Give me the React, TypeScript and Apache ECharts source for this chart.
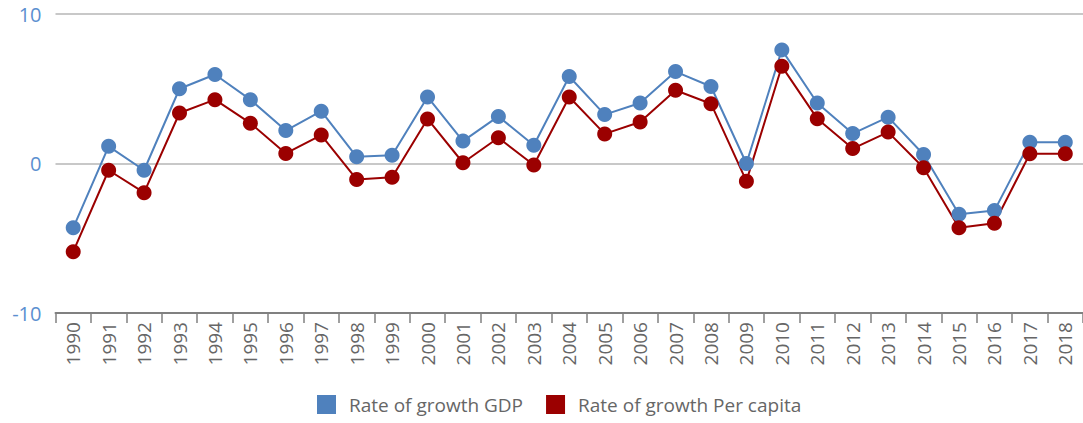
import React, { useEffect, useRef } from "react";
import * as echarts from "echarts";

const years = [
  "1990","1991","1992","1993","1994","1995","1996","1997","1998","1999",
  "2000","2001","2002","2003","2004","2005","2006","2007","2008","2009",
  "2010","2011","2012","2013","2014","2015","2016","2017","2018",
];

const gdpGrowth = [
  -4.3, 1.15, -0.45, 5.0, 5.95, 4.27, 2.2, 3.5, 0.45, 0.55,
  4.45, 1.5, 3.15, 1.22, 5.82, 3.27, 4.05, 6.15, 5.15, 0.0,
  7.6, 4.05, 2.0, 3.1, 0.6, -3.4, -3.15, 1.42, 1.42,
];

const perCapitaGrowth = [
  -5.9, -0.45, -1.95, 3.38, 4.27, 2.7, 0.67, 1.9, -1.07, -0.92,
  2.98, 0.05, 1.72, -0.1, 4.45, 1.98, 2.78, 4.9, 4.0, -1.18,
  6.5, 3.0, 1.0, 2.1, -0.28, -4.3, -4.0, 0.65, 0.65,
];

const seriesNames = ["Rate of growth GDP", "Rate of growth Per capita"];
const colors = ["#4f81bd", "#9b0000"];

export default function App() {
  const ref = useRef<HTMLDivElement>(null);
  useEffect(() => {
    if (!ref.current) return;
    const chart = echarts.init(ref.current, undefined, { renderer: "svg" });
    chart.setOption({
      animation: false,
      textStyle: { fontFamily: "'Open Sans', sans-serif" },
      grid: { left: 55.5, right: -6.5, top: 14, bottom: 110, containLabel: false },
      legend: {
        top: 390,
        left: 312,
        itemWidth: 19,
        itemHeight: 19,
        itemGap: 23,
        icon: "rect",
        textStyle: {
          color: "#666",
          fontSize: 19,
          fontFamily: "'Open Sans', sans-serif",
          padding: [0, 0, 0, 8],
        },
        data: seriesNames,
      },
      xAxis: {
        type: "category",
        data: years,
        boundaryGap: true,
        axisLine: { onZero: false, lineStyle: { color: "#808080", width: 2 } },
        axisTick: { show: true, length: 10, lineStyle: { color: "#808080", width: 1.5 } },
        axisLabel: { rotate: 90, color: "#666", fontSize: 19, margin: 9 },
      },
      yAxis: {
        type: "value",
        min: -10,
        max: 10,
        interval: 10,
        axisLine: { show: false },
        axisTick: { show: false },
        splitLine: { lineStyle: { color: "#c8c8c8", width: 2 } },
        axisLabel: { color: "#5b8fd0", fontSize: 20, margin: 14 },
      },
      series: [
        {
          name: seriesNames[0],
          type: "line",
          data: gdpGrowth,
          symbol: "circle",
          symbolSize: 15,
          color: colors[0],
          lineStyle: { width: 2, color: colors[0] },
          itemStyle: { color: colors[0] },
        },
        {
          name: seriesNames[1],
          type: "line",
          data: perCapitaGrowth,
          symbol: "circle",
          symbolSize: 15,
          color: colors[1],
          lineStyle: { width: 2, color: colors[1] },
          itemStyle: { color: colors[1] },
        },
      ],
    });
    return () => chart.dispose();
  }, []);
  return (
    <div
      ref={ref}
      style={{ position: "absolute", left: 0, top: 0, width: 1083, height: 423 }}
    />
  );
}
